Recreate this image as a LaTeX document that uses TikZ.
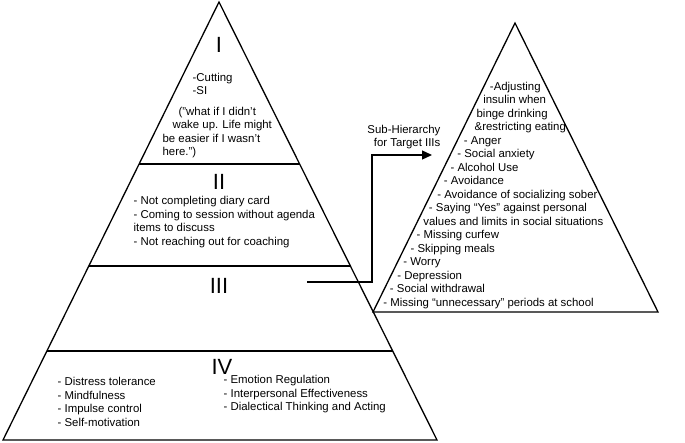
\documentclass[tikz,border=0pt]{standalone}
\usepackage{fontspec}
\setmainfont{Liberation Sans}
\usetikzlibrary{arrows.meta,calc}
\begin{document}
\begin{tikzpicture}[x=1pt,y=-1pt,line width=1.3pt,line join=miter,
  txt/.style={font=\fontsize{11.4}{13.5}\selectfont,inner sep=0pt,anchor=base west},
  num/.style={font=\fontsize{22}{24}\selectfont,inner sep=0pt},
  lbl/.style={font=\fontsize{11.4}{13.8}\selectfont,inner sep=0pt,align=right,anchor=east}]
\useasboundingbox (0,0) rectangle (685,442);
% main pyramid
\coordinate (A) at (219,2);
\coordinate (BL) at (3,440);
\coordinate (BR) at (437,440);
\draw (A) -- (BL) -- (BR) -- cycle;
\coordinate (d1l) at ($(A)!162/438!(BL)$);
\coordinate (d1r) at ($(A)!162/438!(BR)$);
\coordinate (d2l) at ($(A)!264/438!(BL)$);
\coordinate (d2r) at ($(A)!264/438!(BR)$);
\coordinate (d3l) at ($(A)!349/438!(BL)$);
\coordinate (d3r) at ($(A)!349/438!(BR)$);
\draw (d1l) -- (d1r);
\draw (d2l) -- (d2r);
\draw (d3l) -- (d3r);
% numerals
\node[num] (n1) at (219,45) {I};
\node[num] (n2) at (219,182) {II};
\node[num] (n3) at (219,286) {III};
\node[num] (n4) at (222,367) {IV};
% section I
\node[txt] (c1) at (192,81) {-Cutting};
\node[txt] (c2) at (192,94) {-SI};
\node[txt] (q1) at (178,115) {("what if I didn't};
\node[txt] (q2) at (172,128.5) {wake up. Life might};
\node[txt] (q3) at (162,142) {be easier if I wasn't};
\node[txt] (q4) at (162,155.5) {here.")};
% section II
\node[txt,anchor=north west,align=left] (s2) at (133,196)
  {- Not completing diary card\\- Coming to session without agenda\\items to discuss\\- Not reaching out for coaching};
% section IV
\node[txt,anchor=north west,align=left] (s4a) at (57,377)
  {- Distress tolerance\\- Mindfulness\\- Impulse control\\- Self-motivation};
\node[txt,anchor=north west,align=left] (s4b) at (223,375)
  {- Emotion Regulation\\- Interpersonal Effectiveness\\- Dialectical Thinking and Acting};
% right triangle
\coordinate (RA) at (515,23);
\coordinate (RL) at (373,312);
\coordinate (RR) at (658,312);
\draw (RA) -- (RL) -- (RR) -- cycle;
\foreach \x/\t [count=\i from 0] in {
  489.3/{-Adjusting},
  482.7/{insulin when},
  476/{binge drinking},
  474/{\&restricting eating},
  463.3/{- Anger},
  456.7/{- Social anxiety},
  450/{- Alcohol Use},
  443.3/{- Avoidance},
  436.7/{- Avoidance of socializing sober},
  428.3/{- Saying “Yes” against personal},
  422.7/{values and limits in social situations},
  416/{- Missing curfew},
  410/{- Skipping meals},
  402.7/{- Worry},
  396.7/{- Depression},
  389.3/{- Social withdrawal},
  382.7/{- Missing “unnecessary” periods at school}}
  \node[txt] (r\i) at (\x,90+13.5*\i) {\t};
% arrow
\coordinate (arrS) at (307,282);
\coordinate (bend) at (372,155);
\coordinate (arrT) at (432,155);
\draw[-{Triangle[length=10pt,width=9pt]}] (arrS) -| (bend) -- (arrT);
\node[lbl] (sub) at (441,137) {Sub-Hierarchy\\for Target IIIs};
\end{tikzpicture}
\end{document}
